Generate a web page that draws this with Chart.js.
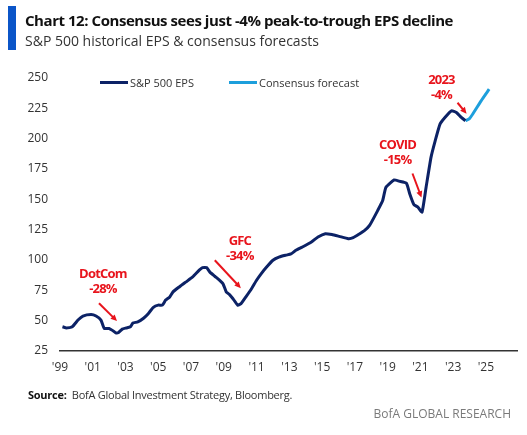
<!DOCTYPE html>
<html>
<head>
<meta charset="utf-8">
<script src="https://cdn.jsdelivr.net/npm/chart.js@4/dist/chart.umd.min.js"></script>
<style>
  body { margin: 0; background: #fff; font-family: "Open Sans", "Noto Sans", sans-serif; }
  #wrap { position: relative; width: 527px; height: 435px; overflow: hidden; }
  #chart { position: absolute; left: 0; top: 0; }
  .bar { position: absolute; left: 8px; top: 6px; width: 8px; height: 44px; background: #0b55c8; }
  .title { position: absolute; left: 25px; top: 10px; font-size: 15px; font-weight: 700; color: #111; white-space: nowrap; letter-spacing: -0.45px; }
  .subtitle { position: absolute; left: 25px; top: 31px; font-size: 14px; color: #333; white-space: nowrap; }
  .legend { position: absolute; top: 75px; font-size: 11px; color: #333; white-space: nowrap; display: flex; align-items: center; }
  .legend i { display: inline-block; width: 28px; height: 3px; margin-right: 2px; }
  .source { position: absolute; left: 28px; top: 387px; font-size: 11px; color: #333; white-space: nowrap; letter-spacing: -0.25px; }
  .source b { color: #111; }
  .foot { position: absolute; right: 16px; top: 405px; font-size: 12px; color: #7a7a7a; white-space: nowrap; }
</style>
</head>
<body>
<div id="wrap">
  <canvas id="chart" width="527" height="435"></canvas>
  <div class="bar"></div>
  <div class="title">Chart 12: Consensus sees just -4% peak-to-trough EPS decline</div>
  <div class="subtitle">S&amp;P 500 historical EPS &amp; consensus forecasts</div>
  <div class="legend" style="left:100px"><i style="background:#0c2266"></i>S&amp;P 500 EPS</div>
  <div class="legend" style="left:229px"><i style="background:#1d9fdc"></i>Consensus forecast</div>
  <div class="source"><b>Source:</b>&nbsp; BofA Global Investment Strategy, Bloomberg.</div>
  <div class="foot">BofA GLOBAL RESEARCH</div>
</div>
<script>
const histYears = [1999.15, 1999.4, 1999.75, 2000.1, 2000.4, 2000.9, 2001.2, 2001.5, 2001.7, 2002.0,
  2002.2, 2002.4, 2002.55, 2002.8, 2003.05, 2003.3, 2003.45, 2003.75, 2004.1, 2004.4,
  2004.7, 2005.0, 2005.25, 2005.45, 2005.7, 2005.9, 2006.3, 2006.7, 2007.1, 2007.5,
  2007.7, 2007.95, 2008.15, 2008.45, 2008.75, 2008.95, 2009.15, 2009.35, 2009.55, 2009.85,
  2010.05, 2010.35, 2010.7, 2011.0, 2011.3, 2011.6, 2012.0, 2012.4, 2012.8, 2013.1,
  2013.4, 2013.8, 2014.35, 2014.75, 2015.2, 2015.6, 2016.05, 2016.6, 2016.9, 2017.3,
  2017.6, 2017.9, 2018.4, 2018.7, 2018.9, 2019.4, 2019.7, 2020.15, 2020.35, 2020.6,
  2020.85, 2021.1, 2021.35, 2021.65, 2021.9, 2022.2, 2022.5, 2022.9, 2023.2, 2023.5, 2023.75];
const histEps = [45, 44, 45, 50.5, 53.8, 55, 53.8, 50.5, 43.6, 43.6,
  42, 40, 40, 43, 44, 45, 48, 49, 52, 56,
  61, 62.8, 62.8, 67, 69.6, 73.7, 78, 82, 86, 91.6,
  93.7, 93.7, 90, 86.6, 83.3, 80.5, 73.7, 71.5, 68.3, 62.8,
  64, 69.6, 76.5, 83.3, 89, 94, 99.8, 102.5, 104, 105,
  108, 110.7, 114.8, 119, 121.7, 121, 119.5, 117.6, 118.4, 121.7,
  124.4, 128.5, 140.9, 149, 160, 166, 165, 163.3, 154.6, 145.8,
  143.6, 139.5, 160, 184.6, 198, 212, 217.5, 223, 221.6, 217.5, 214.8];

const fcstYears = [2023.75, 2024.0, 2024.2, 2024.7, 2025.2];
const fcstEps = [214.8, 216.5, 220.3, 231, 240.8];

const tickYears = [1999, 2001, 2003, 2005, 2007, 2009, 2011, 2013, 2015, 2017, 2019, 2021, 2023, 2025];
const yTicks = [25, 50, 75, 100, 125, 150, 175, 200, 225, 250];

// labels: text lines, label position and arrow start/end in data units
const notes = [
  { lines: ['DotCom', '-28%'], at: [2001.62, 88.3], from: [2001.38, 64.4], to: [2002.48, 49.7] },
  { lines: ['GFC', '-34%'], at: [2009.98, 115.4], from: [2008.45, 99.8], to: [2010.04, 76.8] },
  { lines: ['COVID', '-15%'], at: [2019.61, 194.3], from: [2020.52, 171.3], to: [2021.07, 151.5] },
  { lines: ['2023', '-4%'], at: [2022.29, 248.5], from: [2023.27, 229.6], to: [2023.82, 220.6] }
];

const toPoints = (xs, ys) => xs.map((x, i) => ({ x: x, y: ys[i] }));

const notesPlugin = {
  id: 'notes',
  afterDatasetsDraw(chart) {
    const ctx = chart.ctx;
    const xs = chart.scales.x, ys = chart.scales.y;
    ctx.save();
    ctx.fillStyle = '#e8141c';
    ctx.strokeStyle = '#e8141c';
    ctx.font = 'bold 13px "Open Sans", sans-serif';
    ctx.letterSpacing = '-0.8px';
    ctx.textAlign = 'center';
    ctx.textBaseline = 'middle';
    notes.forEach(n => {
      const lx = xs.getPixelForValue(n.at[0]);
      const ly = ys.getPixelForValue(n.at[1]);
      n.lines.forEach((t, i) => ctx.fillText(t, lx, ly + i * 15));
      const x1 = xs.getPixelForValue(n.from[0]), y1 = ys.getPixelForValue(n.from[1]);
      const x2 = xs.getPixelForValue(n.to[0]), y2 = ys.getPixelForValue(n.to[1]);
      const a = Math.atan2(y2 - y1, x2 - x1);
      const head = 7;
      ctx.lineWidth = 2;
      ctx.beginPath();
      ctx.moveTo(x1, y1);
      ctx.lineTo(x2 - Math.cos(a) * head * 0.8, y2 - Math.sin(a) * head * 0.8);
      ctx.stroke();
      ctx.beginPath();
      ctx.moveTo(x2, y2);
      ctx.lineTo(x2 - head * Math.cos(a - 0.45), y2 - head * Math.sin(a - 0.45));
      ctx.lineTo(x2 - head * Math.cos(a + 0.45), y2 - head * Math.sin(a + 0.45));
      ctx.closePath();
      ctx.fill();
    });
    ctx.restore();
  }
};

new Chart(document.getElementById('chart'), {
  type: 'line',
  data: {
    datasets: [
      {
        label: 'S&P 500 EPS',
        data: toPoints(histYears, histEps),
        borderColor: '#0c2266',
        borderWidth: 3,
        pointRadius: 0,
        tension: 0.15
      },
      {
        label: 'Consensus forecast',
        data: toPoints(fcstYears, fcstEps),
        borderColor: '#1d9fdc',
        borderWidth: 3,
        pointRadius: 0,
        tension: 0.15
      }
    ]
  },
  options: {
    responsive: false,
    animation: false,
    layout: { padding: { top: 78, right: 10, bottom: 54, left: 0 } },
    plugins: { legend: { display: false }, tooltip: { enabled: false } },
    scales: {
      x: {
        type: 'linear',
        min: 1999,
        max: 2026.9,
        afterFit(scale) { scale.height = 30; },
        afterBuildTicks(scale) { scale.ticks = tickYears.map(v => ({ value: v })); },
        grid: { display: false, drawTicks: false },
        border: { display: true, color: '#333', width: 1.5 },
        ticks: {
          padding: 9,
          maxRotation: 0,
          autoSkip: false,
          color: '#333',
          font: { family: '"Open Sans", sans-serif', size: 12 },
          callback: v => "'" + String(v).slice(2)
        }
      },
      y: {
        min: 25,
        max: 250,
        afterFit(scale) { scale.width = 60; },
        afterBuildTicks(scale) { scale.ticks = yTicks.map(v => ({ value: v })); },
        grid: { display: false, drawTicks: false },
        border: { display: false },
        ticks: {
          padding: 12,
          color: '#333',
          font: { family: '"Open Sans", sans-serif', size: 12 }
        }
      }
    }
  },
  plugins: [notesPlugin]
});
</script>
</body>
</html>
